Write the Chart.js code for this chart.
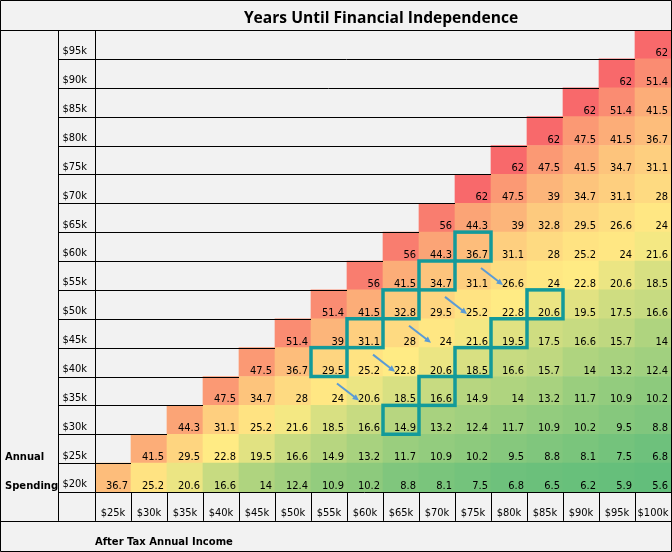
<!DOCTYPE html>
<html><head><meta charset="utf-8">
<script src="https://cdn.jsdelivr.net/npm/chart.js@4"></script>
<style>html,body{margin:0;padding:0;background:#f2f2f2}#wrap{width:672px;height:552px}</style>
</head><body><div id="wrap"><canvas id="c" width="672" height="552"></canvas></div>
<script>
// ---- data ----
const chartTitle = 'Years Until Financial Independence';
const incomeLabels = ['$25k','$30k','$35k','$40k','$45k','$50k','$55k','$60k','$65k','$70k','$75k','$80k','$85k','$90k','$95k','$100k'];
const spendingLabels = ['$20k','$25k','$30k','$35k','$40k','$45k','$50k','$55k','$60k','$65k','$70k','$75k','$80k','$85k','$90k','$95k'];
// years until FI; each row starts at the income column just above its spending level
const spend20k = [36.7, 25.2, 20.6, 16.6, 14, 12.4, 10.9, 10.2, 8.8, 8.1, 7.5, 6.8, 6.5, 6.2, 5.9, 5.6];
const spend25k = [41.5, 29.5, 22.8, 19.5, 16.6, 14.9, 13.2, 11.7, 10.9, 10.2, 9.5, 8.8, 8.1, 7.5, 6.8];
const spend30k = [44.3, 31.1, 25.2, 21.6, 18.5, 16.6, 14.9, 13.2, 12.4, 11.7, 10.9, 10.2, 9.5, 8.8];
const spend35k = [47.5, 34.7, 28, 24, 20.6, 18.5, 16.6, 14.9, 14, 13.2, 11.7, 10.9, 10.2];
const spend40k = [47.5, 36.7, 29.5, 25.2, 22.8, 20.6, 18.5, 16.6, 15.7, 14, 13.2, 12.4];
const spend45k = [51.4, 39, 31.1, 28, 24, 21.6, 19.5, 17.5, 16.6, 15.7, 14];
const spend50k = [51.4, 41.5, 32.8, 29.5, 25.2, 22.8, 20.6, 19.5, 17.5, 16.6];
const spend55k = [56, 41.5, 34.7, 31.1, 26.6, 24, 22.8, 20.6, 18.5];
const spend60k = [56, 44.3, 36.7, 31.1, 28, 25.2, 24, 21.6];
const spend65k = [56, 44.3, 39, 32.8, 29.5, 26.6, 24];
const spend70k = [62, 47.5, 39, 34.7, 31.1, 28];
const spend75k = [62, 47.5, 41.5, 34.7, 31.1];
const spend80k = [62, 47.5, 41.5, 36.7];
const spend85k = [62, 51.4, 41.5];
const spend90k = [62, 51.4];
const spend95k = [62];
const yearRows = [spend20k, spend25k, spend30k, spend35k, spend40k, spend45k, spend50k, spend55k,
                  spend60k, spend65k, spend70k, spend75k, spend80k, spend85k, spend90k, spend95k];
// highlighted cells [spending, income]
const highlightA = [['$60k','$75k'],['$55k','$70k'],['$50k','$65k'],['$45k','$60k'],['$40k','$55k']];
const highlightB = [['$50k','$85k'],['$45k','$80k'],['$40k','$75k'],['$35k','$70k'],['$30k','$65k']];
// arrows [spending row, from income, to income]
const arrows = [['$55k','$75k','$80k'],['$50k','$70k','$75k'],['$45k','$65k','$70k'],['$40k','$60k','$65k'],['$35k','$55k','$60k']];

// ---- colour scale (min green, median yellow, max red) ----
const allVals = yearRows.flat().slice().sort((a,b)=>a-b);
const vMin = allVals[0], vMax = allVals[allVals.length-1];
const mid = allVals.length % 2 ? allVals[(allVals.length-1)/2] : (allVals[allVals.length/2-1] + allVals[allVals.length/2]) / 2;
const cLow = [99,190,123], cMid = [255,235,132], cHigh = [248,105,107];
function mix(a,b,t){ return a.map((v,i)=>Math.round(v+(b[i]-v)*t)); }
function colorFor(v){
  const c = v <= mid ? mix(cLow, cMid, (v - vMin) / (mid - vMin)) : mix(cMid, cHigh, (v - mid) / (vMax - mid));
  return 'rgb(' + c.join(',') + ')';
}

const datasets = yearRows.map((row, r) => ({
  label: spendingLabels[r],
  years: row,
  data: incomeLabels.map((_, j) => (j - r >= 0 && j - r < row.length) ? [r, r + 1] : null),
  backgroundColor: incomeLabels.map((_, j) => (j - r >= 0 && j - r < row.length) ? colorFor(row[j - r]) : 'rgba(0,0,0,0)'),
  borderWidth: 0,
  barPercentage: 1,
  categoryPercentage: 1,
  grouped: false
}));

const VFONT = "'DejaVu Sans Condensed', 'DejaVu Sans', sans-serif";

function crisp(v){ return Math.round(v) + 0.5; }

const tablePlugin = {
  id: 'table',
  beforeDraw(chart){
    const ctx = chart.ctx;
    ctx.save(); ctx.fillStyle = '#f2f2f2'; ctx.fillRect(0,0,chart.width,chart.height); ctx.restore();
  },
  afterDatasetsDraw(chart){
    const ctx = chart.ctx;
    ctx.save();
    ctx.font = '11px ' + VFONT;
    ctx.fillStyle = '#000';
    ctx.textAlign = 'right';
    ctx.textBaseline = 'alphabetic';
    chart.data.datasets.forEach((ds, r) => {
      const meta = chart.getDatasetMeta(r);
      meta.data.forEach((el, j) => {
        if (ds.data[j] == null) return;
        const v = ds.years[j - r];
        const right = el.x + el.width / 2 - 3;
        const bottom = Math.max(el.y, el.base);
        ctx.fillText(String(v), Math.round(right), Math.round(bottom - 3));
      });
    });
    ctx.restore();
  },
  afterDraw(chart){
    const ctx = chart.ctx;
    const ca = chart.chartArea;
    const xs = chart.scales.x, ys = chart.scales.y;
    const colW = (ca.right - ca.left) / incomeLabels.length;
    const rowH = (ca.bottom - ca.top) / spendingLabels.length;
    const colLeft = j => xs.getPixelForValue(j) - colW / 2;
    const rowTop = r => ys.getPixelForValue(r + 1);
    const rowBottom = r => ys.getPixelForValue(r);
    const labelColX = 58;
    const tickRowBottom = ca.bottom + rowH;
    ctx.save();
    ctx.strokeStyle = '#000';
    ctx.lineWidth = 1;
    ctx.beginPath();
    // outer border
    ctx.rect(0.5, 0.5, chart.width - 1, chart.height - 1);
    // top line
    ctx.moveTo(0, crisp(ca.top)); ctx.lineTo(chart.width, crisp(ca.top));
    // line under tick row
    ctx.moveTo(0, crisp(tickRowBottom)); ctx.lineTo(chart.width, crisp(tickRowBottom));
    // bottom of grid
    ctx.moveTo(labelColX, crisp(ca.bottom)); ctx.lineTo(ca.right, crisp(ca.bottom));
    // verticals
    ctx.moveTo(crisp(labelColX), ca.top); ctx.lineTo(crisp(labelColX), tickRowBottom);
    ctx.moveTo(crisp(ca.left), ca.top); ctx.lineTo(crisp(ca.left), tickRowBottom);
    for (let j = 1; j <= incomeLabels.length; j++) {
      const x = crisp(colLeft(j));
      ctx.moveTo(x, ca.bottom); ctx.lineTo(x, tickRowBottom);
    }
    // row lines through label column and blank area
    for (let r = 1; r < spendingLabels.length; r++) {
      const y = crisp(rowBottom(r));
      ctx.moveTo(labelColX, y); ctx.lineTo(colLeft(r), y);
    }
    ctx.stroke();

    // highlight boxes
    ctx.strokeStyle = '#139a9a';
    ctx.lineWidth = 3.5;
    [...highlightA, ...highlightB].forEach(([s, inc]) => {
      const r = spendingLabels.indexOf(s), j = incomeLabels.indexOf(inc);
      const x0 = colLeft(j), y0 = rowTop(r);
      ctx.strokeRect(x0, y0, colW, rowH);
    });

    // arrows
    ctx.strokeStyle = '#5b9bd5'; ctx.fillStyle = '#5b9bd5'; ctx.lineWidth = 2;
    arrows.forEach(([s, a, b]) => {
      const r = spendingLabels.indexOf(s), ja = incomeLabels.indexOf(a), jb = incomeLabels.indexOf(b);
      const x1 = colLeft(ja) + colW - 10, y1 = rowTop(r) + 7;
      const x2 = colLeft(jb) + 12, y2 = rowTop(r) + 24;
      const ang = Math.atan2(y2 - y1, x2 - x1);
      const hl = 7;
      ctx.beginPath(); ctx.moveTo(x1, y1); ctx.lineTo(x2 - Math.cos(ang) * hl * 0.8, y2 - Math.sin(ang) * hl * 0.8); ctx.stroke();
      ctx.beginPath();
      ctx.moveTo(x2, y2);
      ctx.lineTo(x2 - hl * Math.cos(ang - 0.45), y2 - hl * Math.sin(ang - 0.45));
      ctx.lineTo(x2 - hl * Math.cos(ang + 0.45), y2 - hl * Math.sin(ang + 0.45));
      ctx.closePath(); ctx.fill();
    });

    // title
    ctx.fillStyle = '#000';
    ctx.font = "bold 15.6px 'Open Sans', sans-serif";
    ctx.textAlign = 'center'; ctx.textBaseline = 'alphabetic';
    ctx.fillText(chartTitle, (ca.left + ca.right) / 2 - 2, 23);

    // y-axis title words
    ctx.font = "bold 10px 'DejaVu Sans', sans-serif";
    ctx.textAlign = 'left';
    ctx.fillText('Annual', 5, Math.round(rowBottom(1) - 3));
    ctx.fillText('Spending', 5, Math.round(rowBottom(0) - 3));
    ctx.restore();
  }
};

new Chart(document.getElementById('c'), {
  type: 'bar',
  data: { labels: incomeLabels, datasets },
  options: {
    responsive: false,
    animation: false,
    devicePixelRatio: 1,
    layout: { padding: { top: 30, right: 1, bottom: 1, left: 0 } },
    plugins: { legend: { display: false }, tooltip: { enabled: false }, title: { display: false } },
    scales: {
      x: {
        type: 'category', offset: true,
        grid: { display: false, drawTicks: true, tickLength: 15 }, border: { display: false },
        ticks: { autoSkip: false, maxRotation: 0, minRotation: 0, padding: 0, color: '#000', font: { family: VFONT, size: 11 } },
        title: { display: true, text: 'After Tax Annual Income', align: 'start', color: '#000',
                 font: { family: "'DejaVu Sans', sans-serif", weight: 'bold', size: 10 }, padding: { top: 0, bottom: 3 } },
        afterFit: s => { s.height = 59; }
      },
      y: { type: 'linear', min: 0, max: spendingLabels.length, display: false },
      yl: {
        type: 'category', position: 'left', labels: spendingLabels.slice().reverse(), offset: true,
        grid: { display: false, drawTicks: true, tickLength: 8 }, border: { display: false },
        ticks: { padding: 0, labelOffset: 7, crossAlign: 'near', color: '#000', font: { family: VFONT, size: 11 } },
        afterFit: s => { s.width = 95; }
      }
    }
  },
  plugins: [tablePlugin]
});
</script>
</body></html>
